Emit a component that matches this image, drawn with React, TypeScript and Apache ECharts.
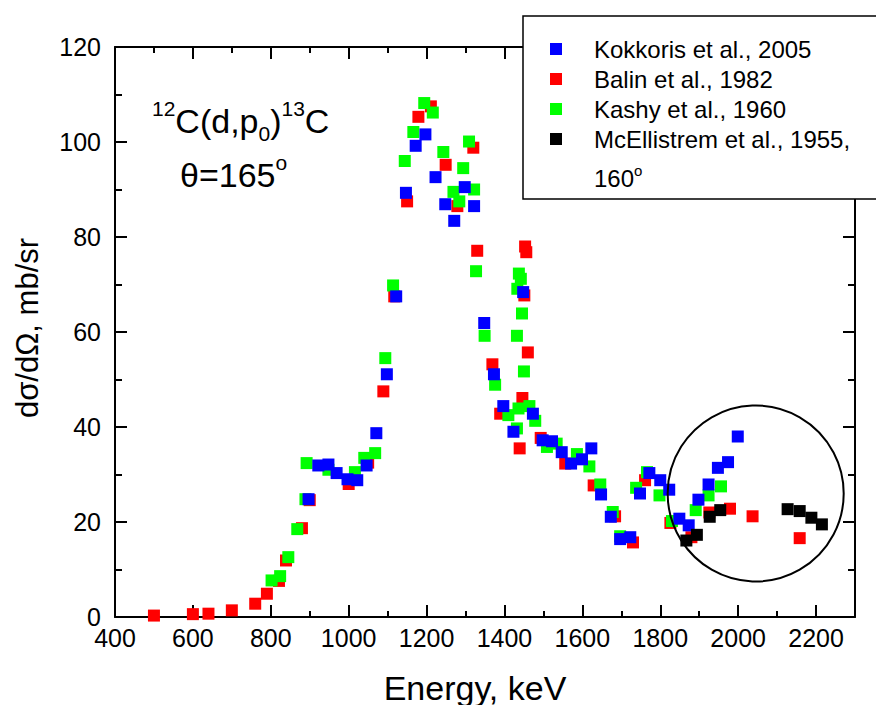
import React, { useEffect, useRef } from "react";
import * as echarts from "echarts";

// ---------- data (Energy keV, dσ/dΩ mb/sr) ----------
const kokkorisData: [number, number][] = [
  [897, 24.8], [922, 31.9], [948, 32.1], [969, 30.3], [997, 29.0], [1022, 28.8],
  [1046, 31.9], [1071, 38.7], [1098, 51.1], [1122, 67.5], [1147, 89.3], [1172, 99.2],
  [1197, 101.6], [1223, 92.6], [1248, 86.9], [1271, 83.4], [1298, 90.5], [1322, 86.5],
  [1348, 61.9], [1373, 51.1], [1397, 44.4], [1423, 39.0], [1448, 68.4], [1473, 42.8],
  [1498, 37.2], [1522, 37.0], [1547, 34.7], [1571, 32.3], [1599, 33.2], [1623, 35.5],
  [1648, 25.8], [1673, 21.1], [1697, 16.4], [1723, 16.8], [1748, 26.0], [1772, 30.3],
  [1800, 28.8], [1823, 26.8], [1849, 20.7], [1873, 19.3], [1898, 24.7], [1924, 27.9],
  [1948, 31.4], [1974, 32.6], [1999, 38.0],
];

const balinData: [number, number][] = [
  [500, 0.3], [600, 0.6], [640, 0.7], [700, 1.4], [760, 2.8], [790, 4.9], [821, 7.6],
  [839, 11.9], [880, 18.7], [900, 24.6], [1000, 28.0], [1050, 32.5], [1089, 47.5],
  [1117, 67.5], [1150, 87.5], [1179, 105.3], [1211, 107.5], [1249, 95.2], [1279, 86.5],
  [1320, 98.8], [1330, 77.1], [1369, 53.2], [1389, 42.8], [1439, 35.5], [1446, 46.1],
  [1451, 67.7], [1453, 78.0], [1456, 76.8], [1460, 55.7], [1493, 37.7], [1556, 32.3],
  [1629, 27.7], [1684, 21.2], [1730, 15.7], [1761, 28.8], [1826, 19.8], [1880, 16.8],
  [1926, 22.0], [1979, 22.8], [2037, 21.2], [2158, 16.6],
];

const kashyData: [number, number][] = [
  [802, 7.7], [824, 8.6], [845, 12.6], [868, 18.5], [889, 24.8], [892, 32.4], [948, 31.0],
  [1016, 30.5], [1040, 33.5], [1068, 34.5], [1094, 54.5], [1114, 69.8], [1144, 96.0],
  [1166, 102.1], [1194, 108.2], [1216, 106.2], [1243, 97.9], [1269, 89.5], [1284, 87.5],
  [1294, 94.5], [1309, 100.1], [1322, 90.0], [1327, 72.8], [1349, 59.2], [1376, 48.9],
  [1410, 42.5], [1432, 39.7], [1432, 59.2], [1433, 69.1], [1437, 72.3], [1442, 71.2],
  [1436, 43.9], [1445, 63.9], [1450, 51.7], [1464, 44.4], [1479, 41.3], [1509, 35.8],
  [1534, 36.5], [1586, 34.3], [1618, 31.7], [1646, 27.9], [1678, 22.1], [1697, 17.0],
  [1738, 27.2], [1766, 30.5], [1798, 25.6], [1830, 20.2], [1891, 22.5], [1924, 25.6],
  [1956, 27.5],
];

const mcellistremData: [number, number][] = [
  [1867, 16.1], [1894, 17.3], [1927, 21.1], [1954, 22.5], [2127, 22.7], [2158, 22.3],
  [2188, 20.9], [2215, 19.5],
];

const legendLabels = [
  "Kokkoris et al., 2005",
  "Balin et al., 1982",
  "Kashy et al., 1960",
  "McEllistrem et al., 1955,",
];
const legendColors = ["#0000ff", "#ff0000", "#00ff00", "#000000"];

const xMin = 400;
const xMax = 2300;
const xMajor = 200;
const xMinor = 100;
const xLastLabel = 2200;
const yMin = 0;
const yMax = 120;
const yMajor = 20;

// highlighted region (circle) in data units
const circleCenter: [number, number] = [2045, 26];
const circleRadiusKeV = 226;

const FONT = "'Liberation Sans', Arial, Helvetica, sans-serif";

export default function App() {
  const ref = useRef<HTMLDivElement>(null);

  useEffect(() => {
    if (!ref.current) return;
    const chart = echarts.init(ref.current, undefined, { renderer: "svg" });

    const axisLine = { show: true, lineStyle: { color: "#000", width: 2 } };
    const majorX = (position: "bottom" | "top", labels: boolean) => ({
      type: "value",
      position,
      min: xMin,
      max: xMax,
      interval: xMajor,
      axisLine,
      axisTick: { show: true, inside: true, length: 12, lineStyle: { color: "#000", width: 2 } },
      axisLabel: {
        show: labels,
        fontSize: 25,
        color: "#000",
        fontFamily: FONT,
        margin: 8,
        formatter: (v: number) => (v > xLastLabel ? "" : String(v)),
      },
      splitLine: { show: false },
    });
    const minorX = (position: "bottom" | "top") => ({
      type: "value",
      position,
      min: xMin,
      max: xMax,
      interval: xMinor,
      axisLine: { show: false },
      axisTick: { show: true, inside: true, length: 6, lineStyle: { color: "#000", width: 2 } },
      axisLabel: { show: false },
      splitLine: { show: false },
    });
    const yAx = (position: "left" | "right", labels: boolean) => ({
      type: "value",
      position,
      min: yMin,
      max: yMax,
      interval: yMajor,
      axisLine,
      axisTick: { show: true, inside: true, length: 12, lineStyle: { color: "#000", width: 2 } },
      minorTick: { show: true, splitNumber: 2, length: 7, lineStyle: { color: "#000", width: 2 } },
      axisLabel: { show: labels, fontSize: 25, color: "#000", fontFamily: FONT, margin: 14 },
      splitLine: { show: false },
      minorSplitLine: { show: false },
    });

    const sc = (name: string, data: [number, number][], color: string) => ({
      type: "scatter",
      name,
      data,
      symbol: "rect",
      symbolSize: 12,
      itemStyle: { color, opacity: 1 },
      xAxisIndex: 0,
      yAxisIndex: 0,
      emphasis: { disabled: true },
    });

    chart.setOption({
      animation: false,
      grid: { left: 115, right: 21, top: 47, bottom: 88, containLabel: false },
      xAxis: [majorX("bottom", true), minorX("bottom"), majorX("top", false), minorX("top")],
      yAxis: [yAx("left", true), yAx("right", false)],
      series: [
        sc(legendLabels[1], balinData, legendColors[1]),
        sc(legendLabels[2], kashyData, legendColors[2]),
        sc(legendLabels[0], kokkorisData, legendColors[0]),
        sc(legendLabels[3], mcellistremData, legendColors[3]),
      ],
    });

    const c = chart.convertToPixel({ xAxisIndex: 0, yAxisIndex: 0 }, circleCenter) as number[];
    const e = chart.convertToPixel({ xAxisIndex: 0, yAxisIndex: 0 }, [
      circleCenter[0] + circleRadiusKeV,
      circleCenter[1],
    ]) as number[];
    const r = e[0] - c[0];

    const legendRowY = [49, 79, 109, 139];
    const graphic: any[] = [
      {
        type: "circle",
        shape: { cx: c[0], cy: c[1], r },
        style: { fill: "none", stroke: "#000", lineWidth: 2 },
        z: 10,
      },
      {
        type: "rect",
        shape: { x: 523, y: 16, width: 370, height: 183 },
        style: { fill: "#fff", stroke: "#000", lineWidth: 1.5 },
        z: 20,
      },
      ...legendRowY.map((y, i) => ({
        type: "rect",
        shape: { x: 550, y: y - 6, width: 12, height: 12 },
        style: { fill: legendColors[i] },
        z: 21,
      })),
      ...legendRowY.map((y, i) => ({
        type: "text",
        x: 594,
        y,
        style: {
          text: legendLabels[i],
          fontSize: 24,
          fontFamily: FONT,
          fill: "#000",
          align: "left",
          verticalAlign: "middle",
        },
        z: 21,
      })),
      {
        type: "text",
        x: 594,
        y: 163,
        style: {
          text: "{n|160}{s|o}",
          fontFamily: FONT,
          fill: "#000",
          align: "left",
          verticalAlign: "top",
          rich: {
            n: { fontSize: 24, lineHeight: 27, verticalAlign: "bottom", fontFamily: FONT },
            s: { fontSize: 15, lineHeight: 16, verticalAlign: "top", fontFamily: FONT },
          },
        },
        z: 21,
      },
      {
        type: "text",
        x: 152,
        y: 98,
        style: {
          text: "{sup|12}{m|C(d,p}{sub|0}{m|)}{sup|13}{m|C}",
          fontFamily: FONT,
          fill: "#000",
          align: "left",
          verticalAlign: "top",
          rich: {
            m: { fontSize: 34, lineHeight: 46, verticalAlign: "middle", fontFamily: FONT },
            sup: { fontSize: 21, lineHeight: 22, verticalAlign: "top", fontFamily: FONT },
            sub: { fontSize: 21, lineHeight: 22, verticalAlign: "bottom", fontFamily: FONT },
          },
        },
        z: 21,
      },
      {
        type: "text",
        x: 180,
        y: 152,
        style: {
          text: "{m|θ=165}{s|o}",
          fontFamily: FONT,
          fill: "#000",
          align: "left",
          verticalAlign: "top",
          rich: {
            m: { fontSize: 34, lineHeight: 46, verticalAlign: "middle", fontFamily: FONT },
            s: { fontSize: 21, lineHeight: 22, verticalAlign: "top", fontFamily: FONT },
          },
        },
        z: 21,
      },
      {
        type: "text",
        x: 475,
        y: 687.5,
        style: {
          text: "Energy, keV",
          fontSize: 34,
          fontFamily: FONT,
          fill: "#000",
          align: "center",
          verticalAlign: "middle",
        },
        z: 21,
      },
      {
        type: "text",
        x: 27,
        y: 328,
        rotation: Math.PI / 2,
        style: {
          text: "dσ/dΩ, mb/sr",
          fontSize: 31,
          fontFamily: FONT,
          fill: "#000",
          align: "center",
          verticalAlign: "middle",
        },
        z: 21,
      },
    ];
    chart.setOption({ graphic });

    return () => chart.dispose();
  }, []);

  return (
    <div
      ref={ref}
      style={{ position: "absolute", left: 0, top: 0, width: 876, height: 705, background: "#fff" }}
    />
  );
}
